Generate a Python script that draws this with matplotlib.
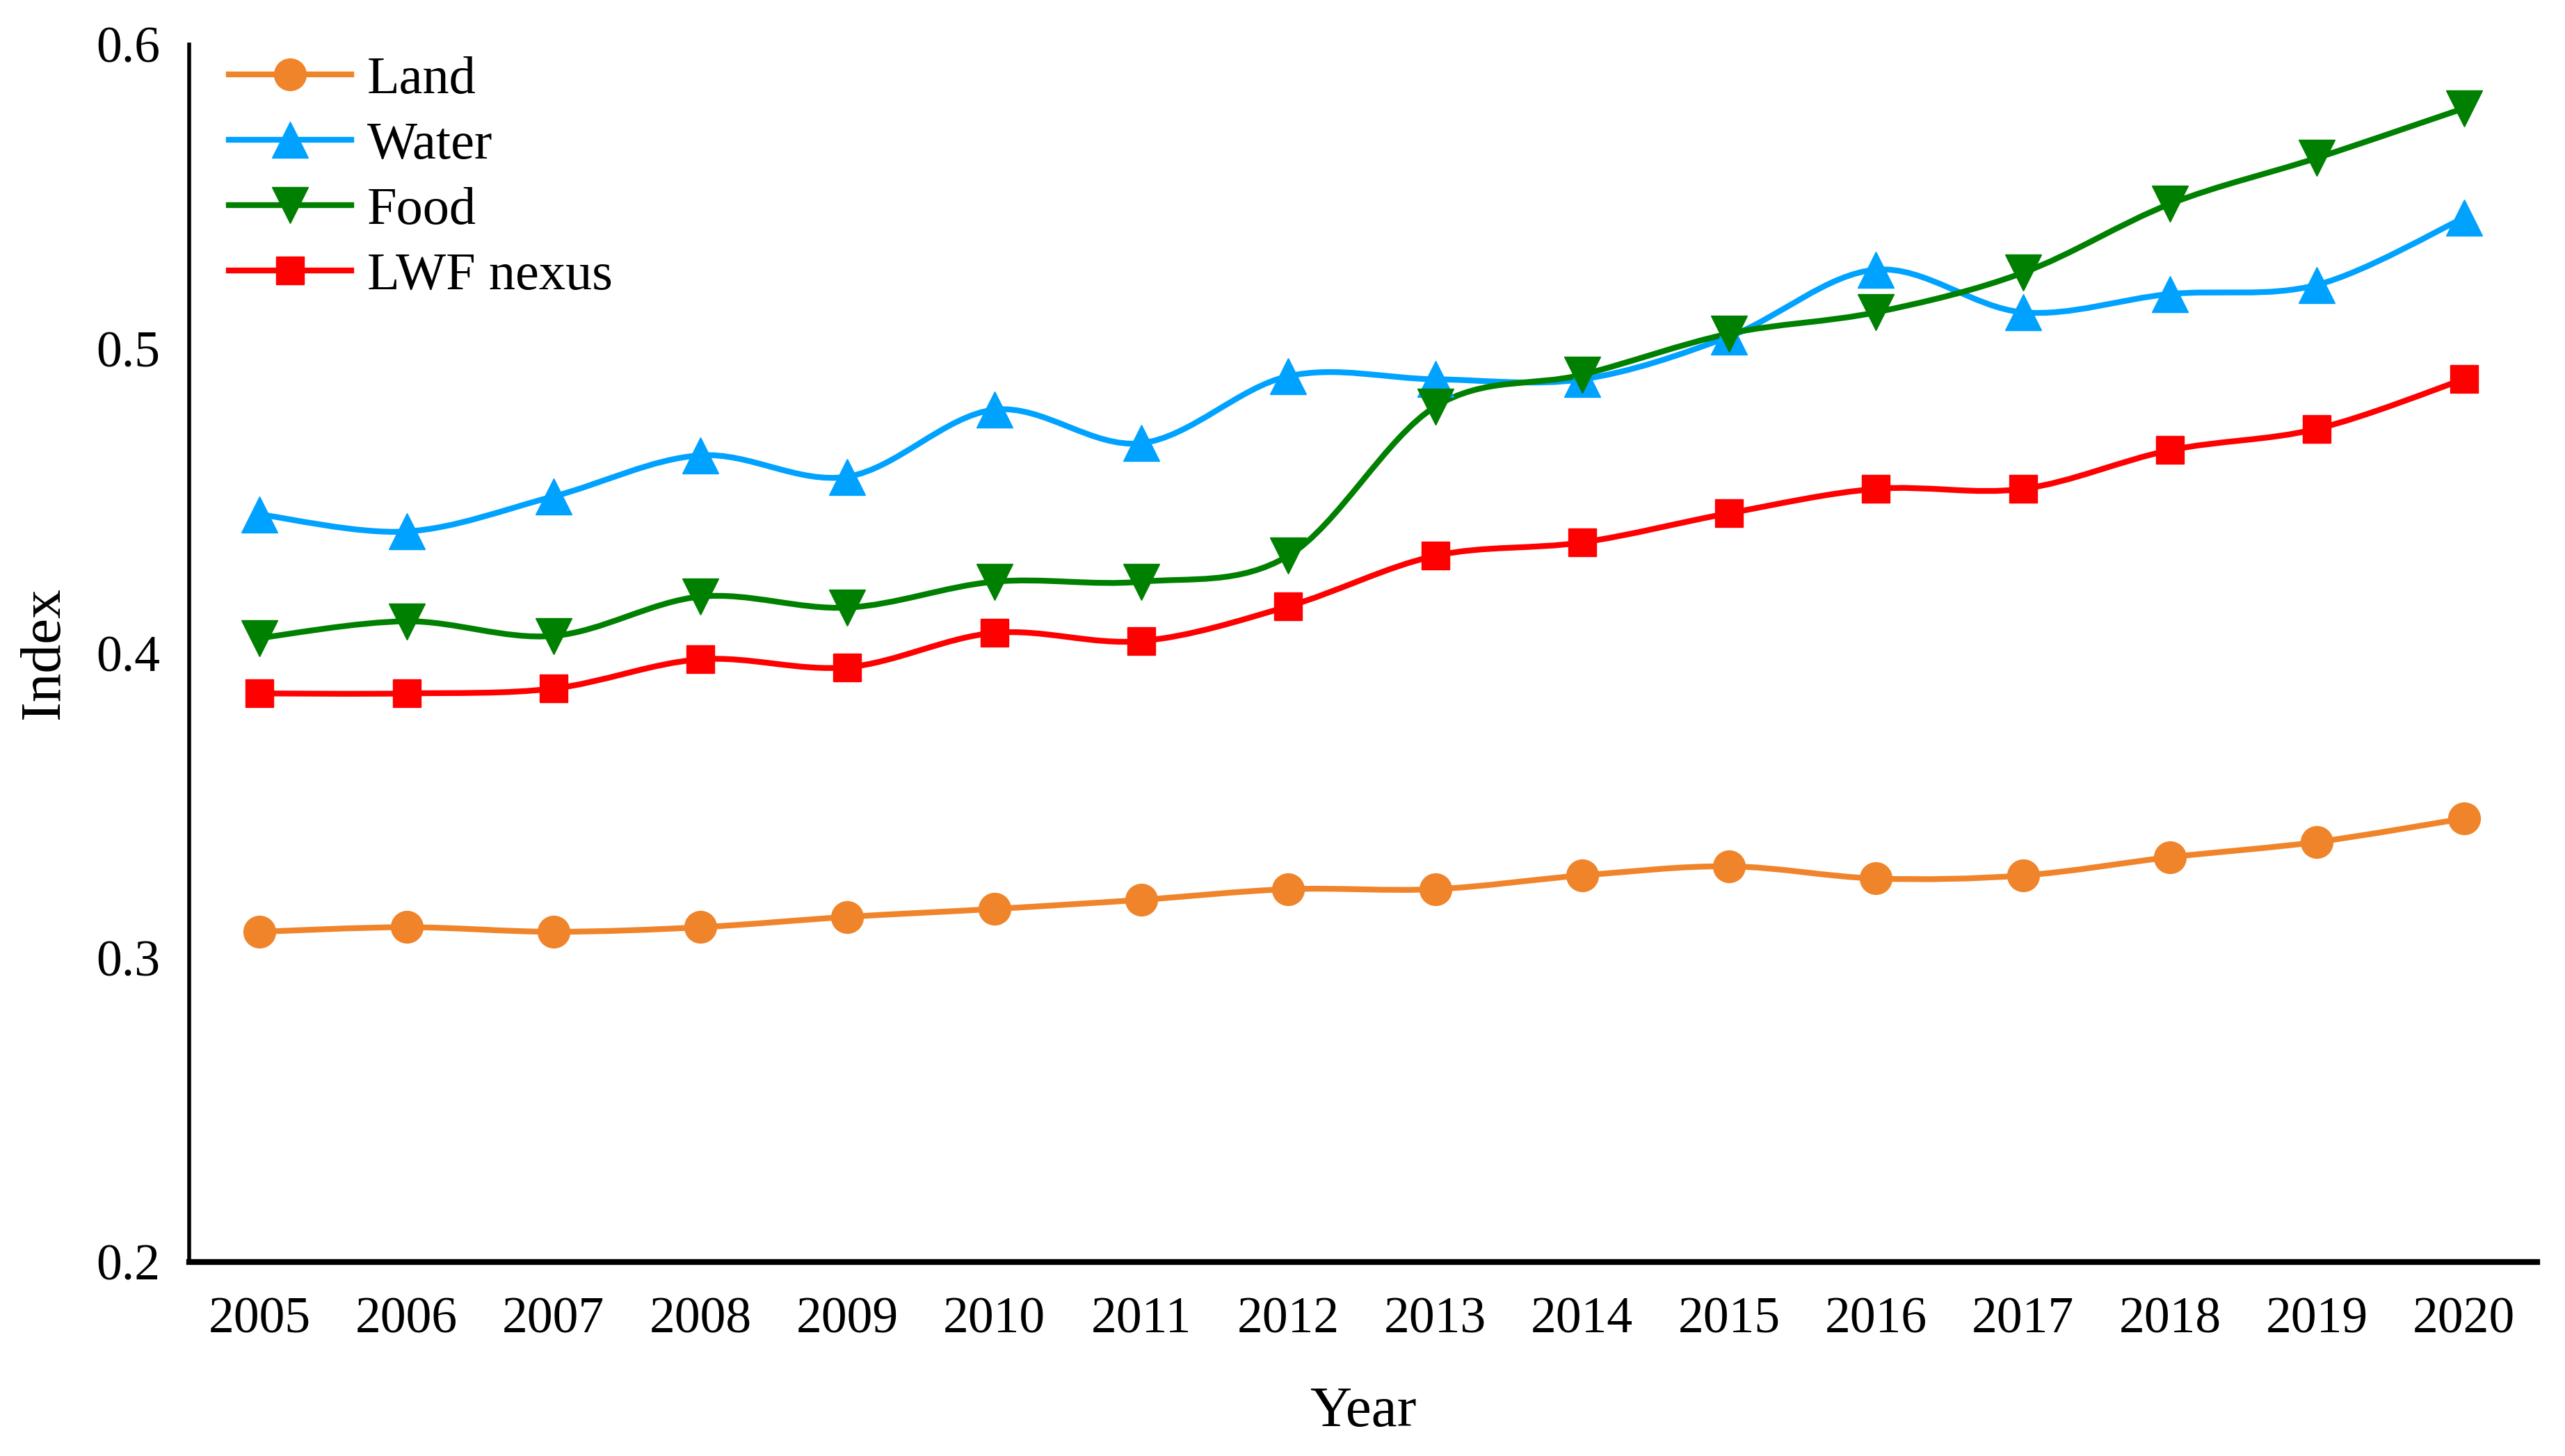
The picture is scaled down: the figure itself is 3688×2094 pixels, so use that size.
import matplotlib.pyplot as plt
import numpy as np
from matplotlib.path import Path
from matplotlib.patches import PathPatch
from matplotlib.lines import Line2D

plt.rcParams['font.family'] = ['Liberation Serif', 'DejaVu Serif']

years = np.arange(2005, 2021)
land = [0.3085, 0.310, 0.3085, 0.310, 0.3134, 0.316, 0.319, 0.3225,
        0.3225, 0.327, 0.330, 0.326, 0.327, 0.333, 0.338, 0.3457]
water = [0.4456, 0.440, 0.4515, 0.465, 0.458, 0.480, 0.469, 0.491,
         0.490, 0.490, 0.504, 0.526, 0.512, 0.518, 0.521, 0.543]
food = [0.405, 0.4105, 0.4057, 0.4186, 0.415, 0.4235, 0.4235, 0.432,
        0.481, 0.4915, 0.505, 0.512, 0.525, 0.5476, 0.5627, 0.579]
lwf = [0.3868, 0.3868, 0.3884, 0.398, 0.3954, 0.4067, 0.404, 0.4154,
       0.432, 0.4364, 0.446, 0.454, 0.454, 0.4667, 0.4737, 0.490]

series = [("Land", land, "#F0842A", "o", 33),
          ("Water", water, "#00A2FF", "^", 38),
          ("Food", food, "#008000", "v", 38),
          ("LWF nexus", lwf, "#FF0000", "s", 29)]


def smooth_path(x, y):
    # excel-style smoothed line: cubic bezier through every point
    p = np.column_stack([x, y]).astype(float)
    ext = np.vstack([p[0], p, p[-1]])
    verts = [p[0]]
    codes = [Path.MOVETO]
    for i in range(len(p) - 1):
        a, b, c, d = ext[i], ext[i + 1], ext[i + 2], ext[i + 3]
        verts += [b + (c - a) / 6, c - (d - b) / 6, c]
        codes += [Path.CURVE4] * 3
    return Path(verts, codes)


fig = plt.figure(figsize=(36.88, 20.94), dpi=100)
ax = fig.add_axes([0.0737, 0.1332, 0.9155, 0.8363])

handles = []
for name, vals, col, mk, ms in series:
    ax.add_patch(PathPatch(smooth_path(years, vals), fill=False,
                           edgecolor=col, linewidth=6, zorder=2))
    ax.plot(years, vals, linestyle='none', marker=mk, ms=ms,
            color=col, mec=col, zorder=3)
    handles.append(Line2D([], [], color=col, lw=6, marker=mk, ms=ms, mec=col))

ax.set_xlim(2004.52, 2020.5)
ax.set_ylim(0.2, 0.6)
ax.set_xticks(years)
ax.set_xticklabels([str(y) for y in years])
ax.set_yticks([0.2, 0.3, 0.4, 0.5, 0.6])
ax.set_yticklabels(["0.2", "0.3", "0.4", "0.5", "0.6"])
ax.tick_params(length=0, labelsize=53)
ax.tick_params(axis='x', pad=36)
ax.tick_params(axis='y', pad=30)

ax.spines['top'].set_visible(False)
ax.spines['right'].set_visible(False)
ax.spines['left'].set_linewidth(4)
ax.spines['bottom'].set_linewidth(6)

ax.set_xlabel("Year", fontsize=60, labelpad=44)
ax.set_ylabel("Index", fontsize=60, labelpad=26)

ax.legend(handles, [s[0] for s in series], loc='upper left', frameon=False,
          fontsize=55, handlelength=2.3, borderaxespad=0.0,
          bbox_to_anchor=(0.008, 1.008), labelspacing=0.32, handletextpad=0.3)

plt.savefig("out.png", dpi=100)
